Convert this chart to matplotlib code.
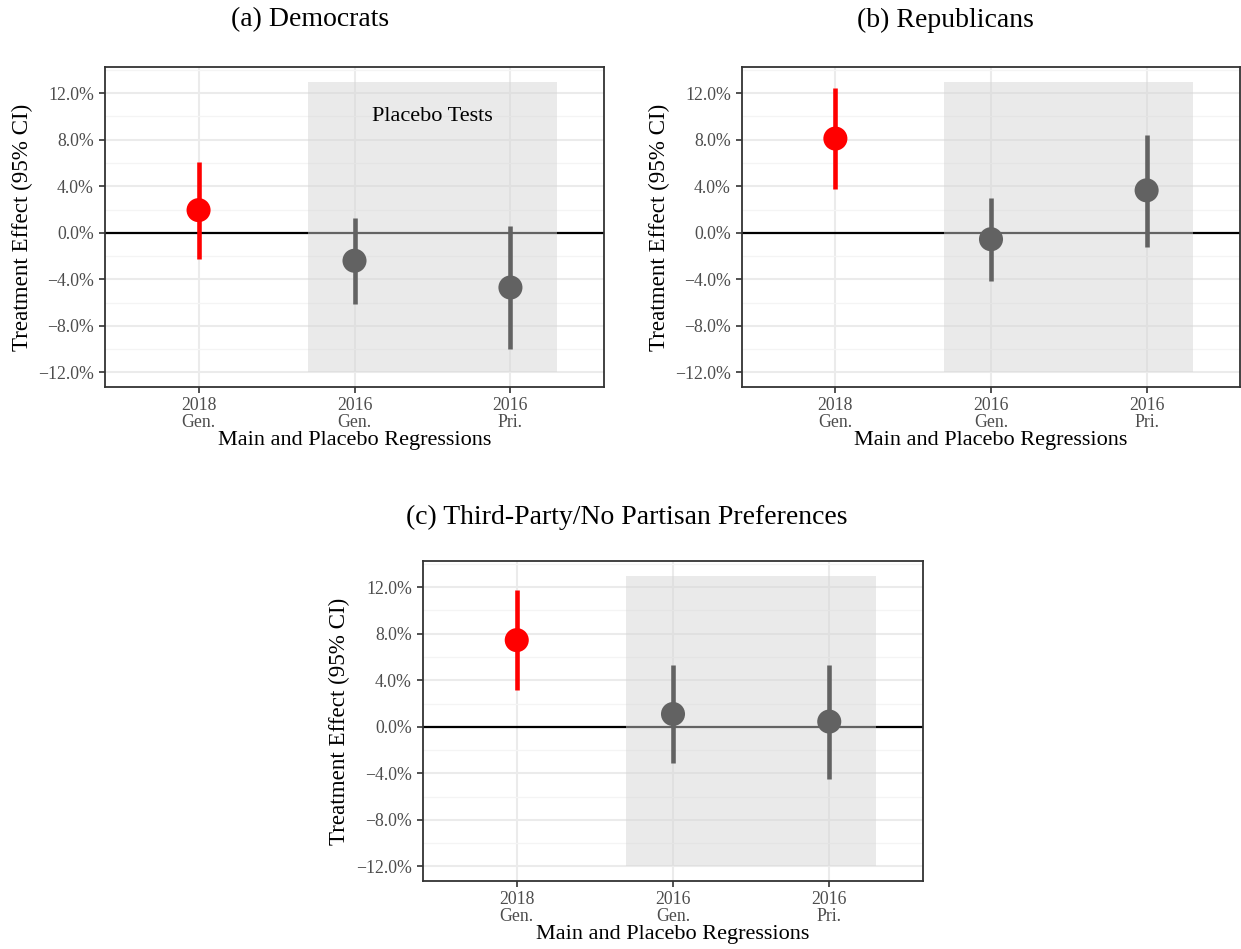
import matplotlib
matplotlib.use('Agg')
import matplotlib.pyplot as plt
from matplotlib.patches import Rectangle
from matplotlib.ticker import FuncFormatter, MultipleLocator, FixedLocator

plt.rcParams['font.family'] = ['Liberation Serif', 'DejaVu Serif']

# data (percentage points)
tick_labels = ['2018\nGen.', '2016\nGen.', '2016\nPri.']
colors = ['#FF0000', '#626262', '#626262']

dem_est = [1.95, -2.40, -4.70]
dem_lo = [-2.25, -6.10, -10.00]
dem_hi = [6.10, 1.30, 0.55]

rep_est = [8.10, -0.55, 3.65]
rep_lo = [3.75, -4.15, -1.20]
rep_hi = [12.45, 3.00, 8.40]

oth_est = [7.45, 1.10, 0.45]
oth_lo = [3.15, -3.10, -4.45]
oth_hi = [11.75, 5.30, 5.30]

W, H = 1241, 949
fig = plt.figure(figsize=(W / 100, H / 100), dpi=100)


def px_axes(left, top, width, height):
    return fig.add_axes([left / W, 1 - (top + height) / H, width / W, height / H])


def pct(v, pos):
    return ('%.1f%%' % v).replace('-', '\u2212')


def panel(ax, est, lo, hi, note=None):
    x = list(range(1, len(est) + 1))
    ax.axhline(0, color='black', lw=1.6, zorder=1.5)
    ax.add_patch(Rectangle((1.7, -12), 1.6, 25, facecolor=(0.83, 0.83, 0.83),
                           alpha=0.47, lw=0, zorder=2))
    ax.vlines(x, lo, hi, colors=colors, lw=3.3, zorder=3)
    ax.scatter(x, est, s=300, c=colors, lw=0, zorder=4)
    if note:
        ax.text(2.5, 10, note, ha='center', va='center', fontsize=16, zorder=5)

    ax.set_xlim(0.4, 3.6)
    ax.set_ylim(-13.25, 14.25)
    ax.set_xticks(x)
    ax.set_xticklabels(tick_labels, linespacing=1.0)
    ax.yaxis.set_major_locator(MultipleLocator(4))
    ax.yaxis.set_minor_locator(FixedLocator([-10, -6, -2, 2, 6, 10, 14]))
    ax.yaxis.set_major_formatter(FuncFormatter(pct))
    ax.tick_params(which='major', length=4, width=1.2, color='#333333',
                   labelcolor='#4D4D4D', labelsize=12.8, pad=4)
    ax.tick_params(axis='x', pad=3)
    ax.tick_params(which='minor', length=0)
    ax.set_axisbelow(True)
    ax.grid(which='major', color='#EBEBEB', lw=1.5)
    ax.grid(which='minor', axis='y', color='#F4F4F4', lw=0.9)
    for s in ax.spines.values():
        s.set_color('#333333')
        s.set_linewidth(1.3)

    ax.set_xlabel('Main and Placebo Regressions', fontsize=16, va='center')
    ax.xaxis.set_label_coords(0.5, -54 / 320)
    ax.set_ylabel('Treatment Effect (95% CI)', fontsize=16.6, va='center')
    ax.yaxis.set_label_coords(-83 / 499, 0.5)


ax_a = px_axes(105, 67, 499, 320)
panel(ax_a, dem_est, dem_lo, dem_hi, note='Placebo Tests')
ax_b = px_axes(742, 67, 498, 320)
panel(ax_b, rep_est, rep_lo, rep_hi)
ax_c = px_axes(423, 561, 500, 320)
panel(ax_c, oth_est, oth_lo, oth_hi)

fig.text(310 / W, 1 - 20 / H, '(a) Democrats', ha='center', va='center', fontsize=20)
fig.text(945 / W, 1 - 20 / H, '(b) Republicans', ha='center', va='center', fontsize=20)
fig.text(627 / W, 1 - 517 / H, '(c) Third-Party/No Partisan Preferences',
         ha='center', va='center', fontsize=20)

fig.savefig('out.png', dpi=100)
